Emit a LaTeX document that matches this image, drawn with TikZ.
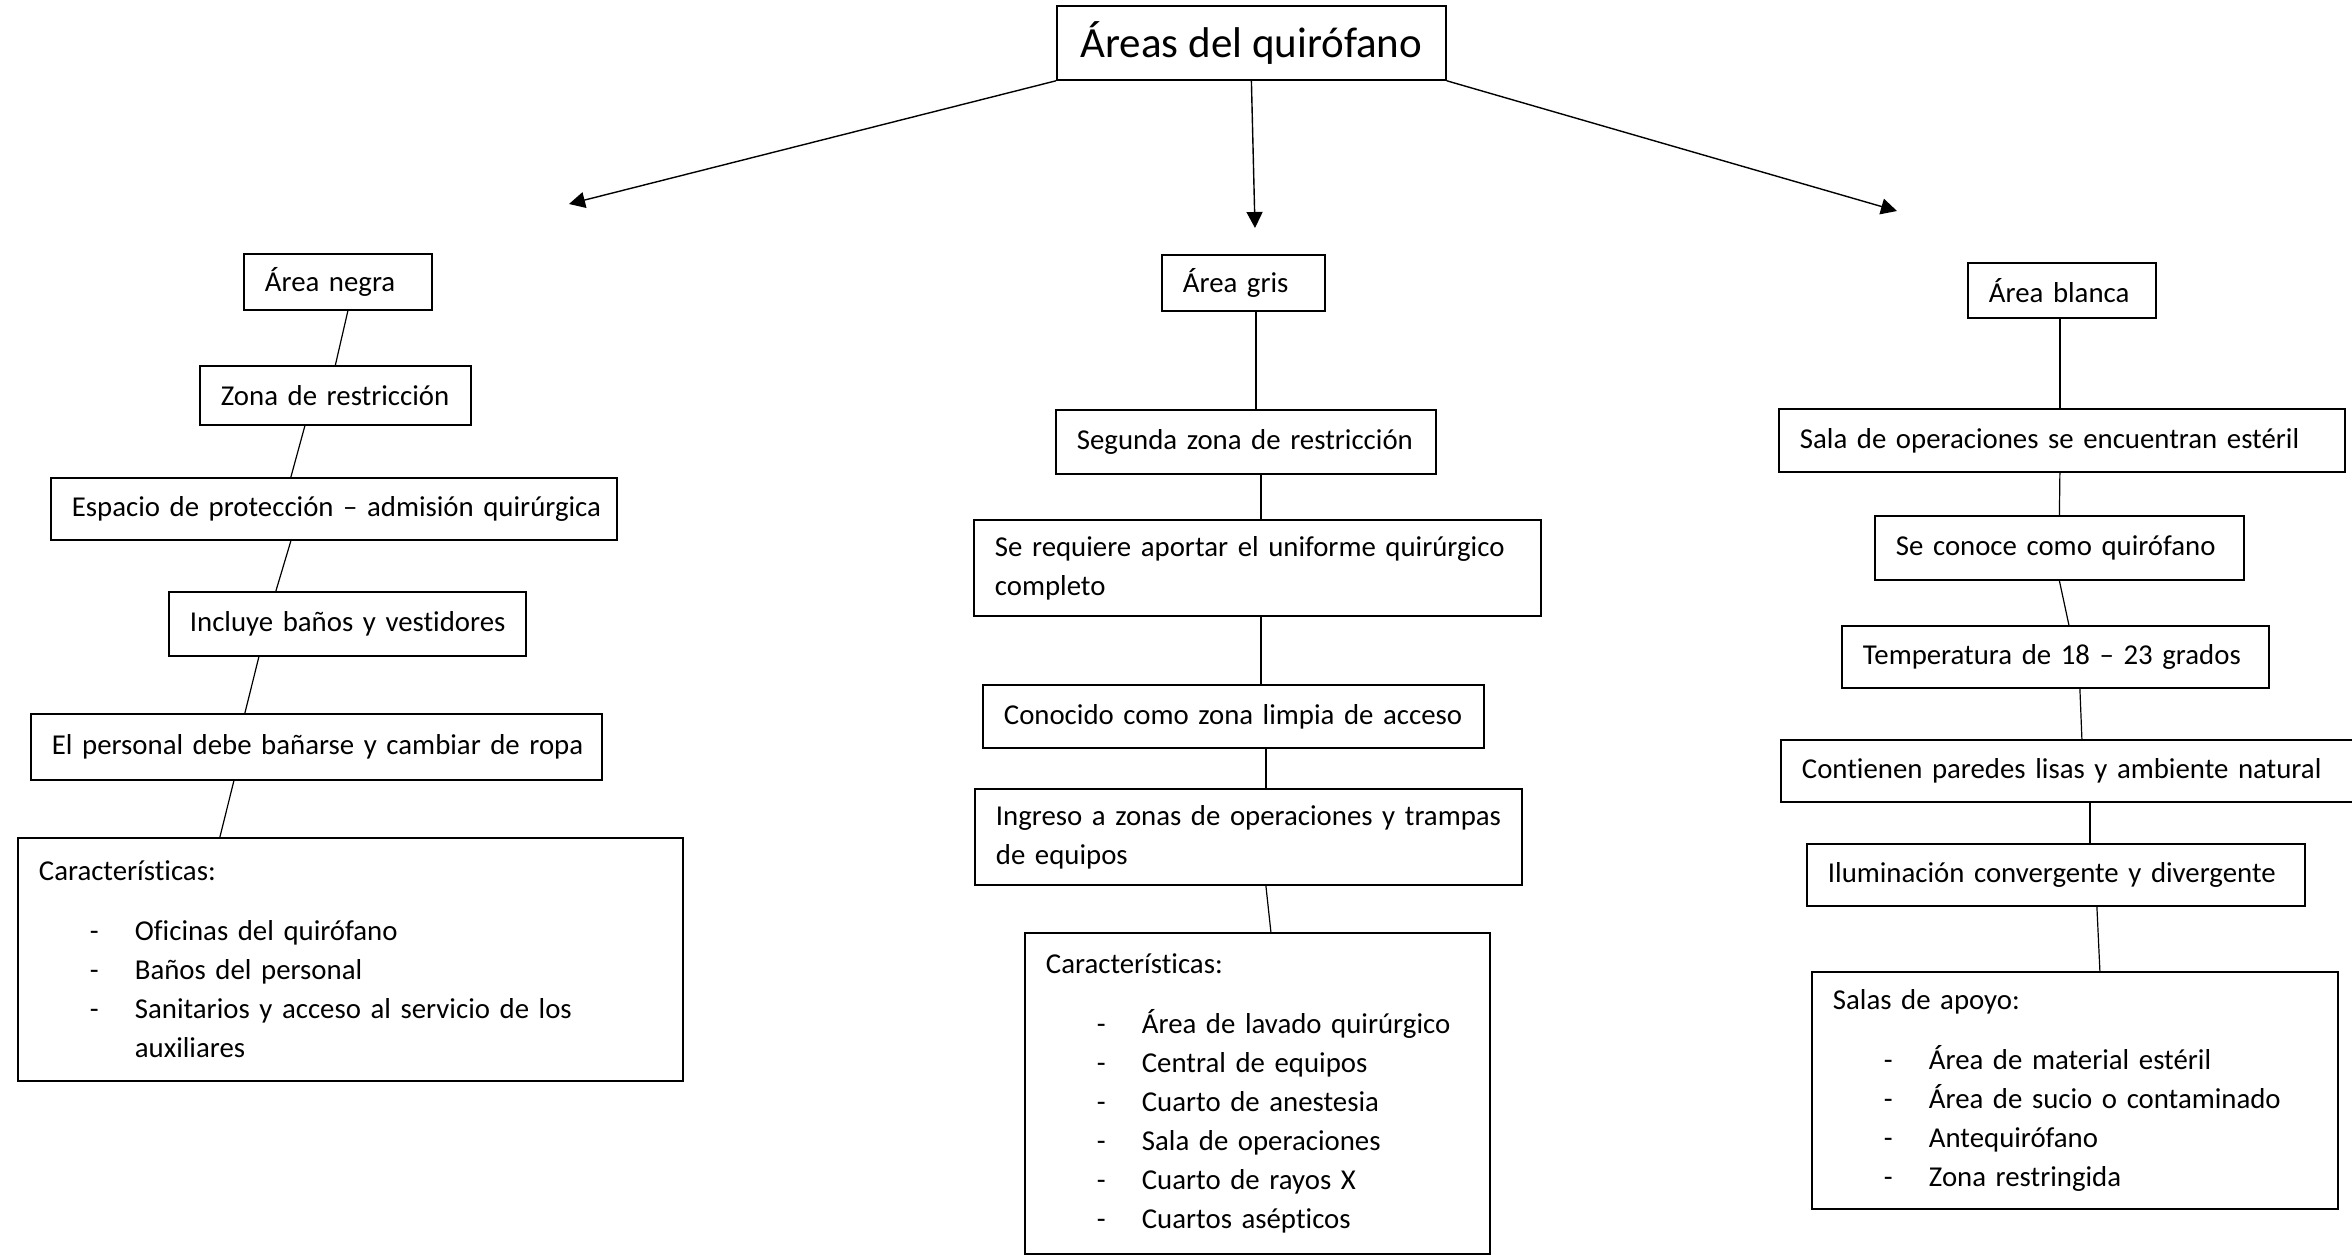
\documentclass[tikz,border=0pt]{standalone}
\usepackage{fontspec}
\setmainfont{Carlito}[Ligatures=NoCommon]
\usetikzlibrary{arrows.meta}

\newcommand{\guion}{\hspace*{25.5pt}\makebox[22.5pt][l]{-}}

\tikzset{
  caja/.style 2 args={draw, line width=0.9pt, anchor=north west, align=left,
    inner xsep=0pt, inner ysep=0pt, text width=#1*0.5pt, minimum height=#2*0.5pt,
    execute at begin node={\leftskip=10.5pt\hyphenpenalty=10000\relax},
    font=\fontsize{14.4}{19.5}\selectfont},
  titulo/.style={draw, line width=0.9pt, anchor=north west, minimum width=194.5pt,
    minimum height=37pt, font=\fontsize{21.5}{25}\selectfont},
  linea/.style={line width=0.6pt},
  flecha/.style={line width=0.7pt, -{Triangle[length=8pt,width=8pt]}}
}

\begin{document}
\begin{tikzpicture}[x=0.5pt,y=-0.5pt]
\useasboundingbox (0,0) rectangle (2352,1258);

\node[titulo] (areas) at (1056,5) {Áreas del quirófano};
\coordinate (fNegra) at (569,204);
\coordinate (fGris) at (1255,228);
\coordinate (fBlanca) at (1897,211);
\draw[flecha] (areas.south west) -- (fNegra);
\draw[flecha] (areas.south) -- (fGris);
\draw[flecha] (areas.south east) -- (fBlanca);

% area negra
\node[caja={188}{56}] (negra) at (243,253) {Área negra};
\node[caja={271}{59}] (zona) at (199,365) {Zona de restricción};
\node[caja={566}{62}] (espacio) at (50,477) {Espacio de protección – admisión quirúrgica};
\node[caja={357}{64}] (banos) at (168,591) {Incluye baños y vestidores};
\node[caja={571}{66}] (personal) at (30,713) {El personal debe bañarse y cambiar de ropa};
\node[caja={665}{243}] (carNegra) at (17,837) {Características:\\[10.5pt]
  \guion Oficinas del quirófano\\ \guion Baños del personal\\
  \guion Sanitarios y acceso al servicio de los\\ \hspace*{48pt}auxiliares};
\draw[linea] ([xshift=5pt]negra.south) -- (zona.north);
\draw[linea] ([xshift=-15.25pt]zona.south) -- ([xshift=-21.5pt]espacio.north);
\draw[linea] ([xshift=-21.5pt]espacio.south) -- ([xshift=-35.75pt]banos.north);
\draw[linea] ([xshift=-44.25pt]banos.south) -- ([xshift=-35.75pt]personal.north);
\draw[linea] ([xshift=-41.25pt]personal.south) -- ([xshift=-65.25pt]carNegra.north); % <- end negra

% area gris
\node[caja={163}{56}] (gris) at (1161,254) {Área gris};
\node[caja={380}{64}] (segunda) at (1055,409) {Segunda zona de restricción};
\node[caja={567}{96}] (uniforme) at (973,519) {Se requiere aportar el uniforme quirúrgico\\completo};
\node[caja={501}{63}] (limpia) at (982,684) {Conocido como zona limpia de acceso};
\node[caja={547}{96}] (ingreso) at (974,788) {Ingreso a zonas de operaciones y trampas\\de equipos};
\node[caja={465}{321}] (carGris) at (1024,932) {Características:\\[10.5pt]
  \guion Área de lavado quirúrgico\\ \guion Central de equipos\\
  \guion Cuarto de anestesia\\ \guion Sala de operaciones\\
  \guion Cuarto de rayos X\\ \guion Cuartos asépticos};
\draw[linea] ([xshift=6.25pt]gris.south) -- ([xshift=5pt]segunda.north);
\draw[linea] ([xshift=7.5pt]segunda.south) -- ([xshift=1.75pt]uniforme.north);
\draw[linea] ([xshift=1.75pt]uniforme.south) -- ([xshift=13.75pt]limpia.north);
\draw[linea] ([xshift=16.25pt]limpia.south) -- ([xshift=8.75pt]ingreso.north);
\draw[linea] ([xshift=8.75pt]ingreso.south) -- ([xshift=6.75pt]carGris.north); % <- end gris

% area blanca
\node[caja={188}{55}] (blanca) at (1967,262) {Área blanca};
\node[caja={566}{63}] (sala) at (1778,408) {Sala de operaciones se encuentran estéril};
\node[caja={369}{64}] (quirofano) at (1874,515) {Se conoce como quirófano};
\node[caja={427}{62}] (temperatura) at (1841,625) {Temperatura de 18 – 23 grados};
\node[caja={582}{62}] (paredes) at (1780,739) {Contienen paredes lisas y ambiente natural};
\node[caja={498}{62}] (luz) at (1806,843) {Iluminación convergente y divergente};
\node[caja={526}{237}] (apoyo) at (1811,971) {Salas de apoyo:\\[10.5pt]
  \guion Área de material estéril\\ \guion Área de sucio o contaminado\\
  \guion Antequirófano\\ \guion Zona restringida};
\draw[linea] ([xshift=-1pt]blanca.south) -- ([xshift=-1pt]sala.north);
\draw[linea] ([xshift=-1pt]sala.south) -- (quirofano.north);
\draw[linea] (quirofano.south) -- ([xshift=6.75pt]temperatura.north);
\draw[linea] ([xshift=12.25pt]temperatura.south) -- ([xshift=5pt]paredes.north);
\draw[linea] ([xshift=9pt]paredes.south) -- ([xshift=17pt]luz.north);
\draw[linea] ([xshift=20.5pt]luz.south) -- ([xshift=12.5pt]apoyo.north); % <- end blanca
\end{tikzpicture}
\end{document}
